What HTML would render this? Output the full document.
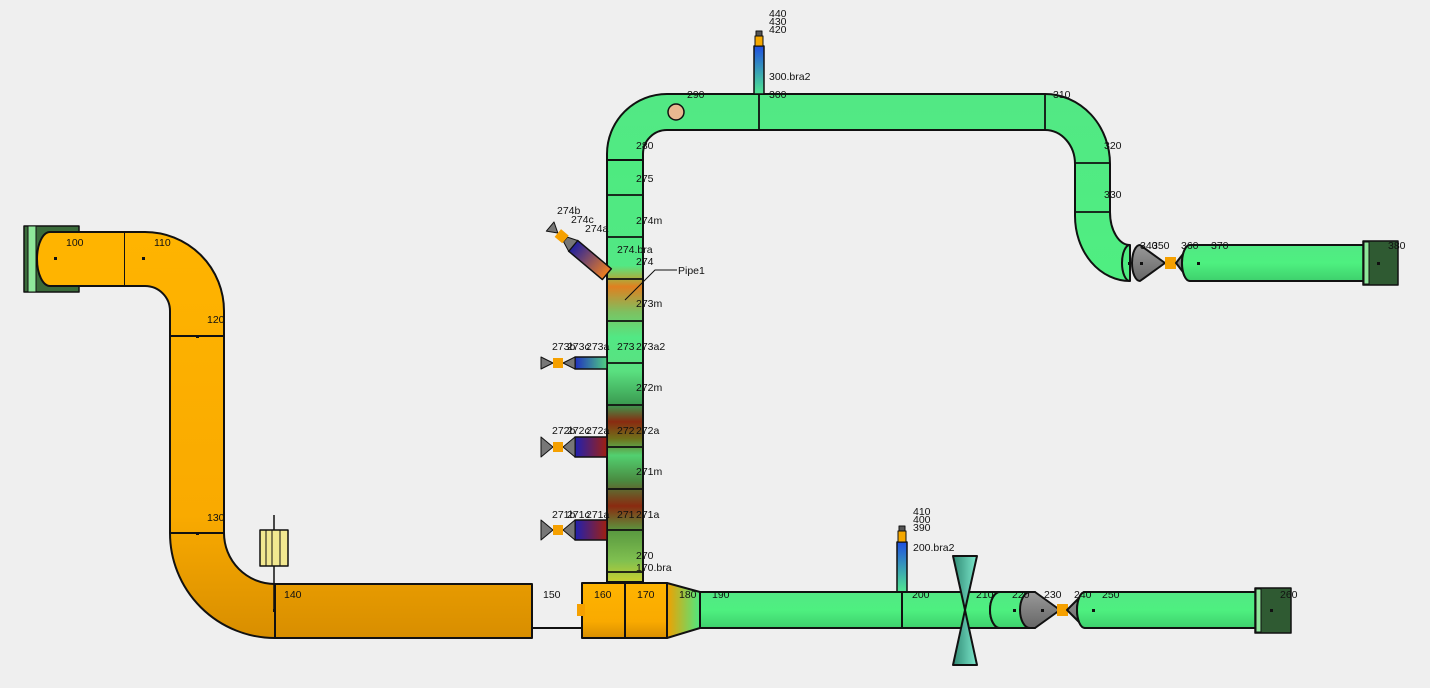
<!DOCTYPE html>
<html><head><meta charset="utf-8"><style>
html,body{margin:0;padding:0;background:#efefef;}
svg{display:block;font-family:"Liberation Sans",sans-serif;font-size:10.5px;}
</style></head><body>
<svg width="1430" height="688" viewBox="0 0 1430 688" xmlns="http://www.w3.org/2000/svg">
<defs>
<linearGradient id="og" x1="0" y1="0" x2="0" y2="1"><stop offset="0" stop-color="#ffb400"/><stop offset="0.7" stop-color="#f9aa00"/><stop offset="1" stop-color="#d88e00"/></linearGradient>
<linearGradient id="gg" x1="0" y1="0" x2="0" y2="1"><stop offset="0" stop-color="#52e884"/><stop offset="0.5" stop-color="#4ef080"/><stop offset="1" stop-color="#3ed06c"/></linearGradient>
<linearGradient id="riser" x1="0" y1="0" x2="0" y2="1">
<stop offset="0" stop-color="#4eea80"/><stop offset="0.25" stop-color="#52e884"/>
<stop offset="0.28" stop-color="#a8b040"/><stop offset="0.3" stop-color="#e08020"/><stop offset="0.36" stop-color="#7ec060"/>
<stop offset="0.42" stop-color="#52e884"/><stop offset="0.5" stop-color="#5ae080"/>
<stop offset="0.58" stop-color="#3a9a50"/><stop offset="0.62" stop-color="#8a2a10"/><stop offset="0.66" stop-color="#70701a"/><stop offset="0.7" stop-color="#52d070"/>
<stop offset="0.76" stop-color="#4a8a40"/><stop offset="0.82" stop-color="#8a2a10"/><stop offset="0.88" stop-color="#5a9a40"/>
<stop offset="0.95" stop-color="#80c050"/><stop offset="1" stop-color="#c8d030"/></linearGradient>
<linearGradient id="br" x1="0" y1="0" x2="1" y2="0"><stop offset="0" stop-color="#2020b0"/><stop offset="1" stop-color="#a02010"/></linearGradient>
<linearGradient id="br3" x1="0" y1="0" x2="1" y2="0"><stop offset="0" stop-color="#2030c0"/><stop offset="1" stop-color="#50d080"/></linearGradient>
<linearGradient id="br4" x1="0" y1="0" x2="1" y2="0"><stop offset="0" stop-color="#2020a0"/><stop offset="1" stop-color="#f08020"/></linearGradient>
<linearGradient id="vb" x1="0" y1="0" x2="0" y2="1"><stop offset="0" stop-color="#1f4fe0"/><stop offset="1" stop-color="#50e890"/></linearGradient>
<linearGradient id="cone" x1="0" y1="0" x2="1" y2="0"><stop offset="0" stop-color="#f0a000"/><stop offset="1" stop-color="#4ee880"/></linearGradient>
<linearGradient id="gray" x1="0" y1="0" x2="0" y2="1"><stop offset="0" stop-color="#999"/><stop offset="1" stop-color="#666"/></linearGradient>
<linearGradient id="teal" x1="0" y1="0" x2="1" y2="0"><stop offset="0" stop-color="#2f8a74"/><stop offset="1" stop-color="#7de8cc"/></linearGradient>
</defs>
<g stroke="#111" stroke-width="2" stroke-linejoin="round">
<!-- orange pipe -->
<path d="M50 232 H145 A79 79 0 0 1 224 311 V533 A51 51 0 0 0 275 584 H532 V638 H275 A105 105 0 0 1 170 533 V311 A25 25 0 0 0 145 286 H50 Z" fill="url(#og)"/>
<line x1="124" y1="232" x2="124" y2="286"/>
<line x1="170" y1="336" x2="224" y2="336"/>
<line x1="170" y1="533" x2="224" y2="533"/>
<line x1="275" y1="584" x2="275" y2="638"/>
<rect x="24" y="226" width="55" height="66" fill="#3a6b3a" stroke-width="1.5"/>
<rect x="28" y="226" width="8" height="66" fill="#8fe79a" stroke-width="1"/>
<ellipse cx="50" cy="259" rx="13" ry="27" fill="#ffb400"/>
<path d="M50 232 H124 V286 H50" fill="#ffb400" stroke="none"/>
<path d="M50 232 H124 M50 286 H124"/>
<!-- small valve -->
<line x1="274" y1="515" x2="274" y2="610" stroke-width="1.5"/>
<rect x="260" y="530" width="28" height="36" fill="#f2e890" stroke-width="1.5"/>
<line x1="266" y1="530" x2="266" y2="566" stroke-width="1"/><line x1="272" y1="530" x2="272" y2="566" stroke-width="1"/><line x1="280" y1="530" x2="280" y2="566" stroke-width="1"/>
<line x1="532" y1="628" x2="582" y2="628"/>
<!-- top route -->
<path d="M607 580 V154 A60 60 0 0 1 667 94 H1045 A65 70 0 0 1 1110 164 V212 A20 33 0 0 0 1130 245 V281 A55 65 0 0 1 1075 216 V164 A30 34 0 0 0 1045 130 H667 A24 24 0 0 0 643 154 V580 Z" fill="url(#gg)"/>
<rect x="607" y="160" width="36" height="422" fill="url(#riser)"/>
<g stroke-width="1.8">
<line x1="607" y1="160" x2="643" y2="160"/><line x1="607" y1="195" x2="643" y2="195"/><line x1="607" y1="237" x2="643" y2="237"/>
<line x1="607" y1="279" x2="643" y2="279"/><line x1="607" y1="321" x2="643" y2="321"/><line x1="607" y1="363" x2="643" y2="363"/>
<line x1="607" y1="405" x2="643" y2="405"/><line x1="607" y1="447" x2="643" y2="447"/><line x1="607" y1="489" x2="643" y2="489"/>
<line x1="607" y1="530" x2="643" y2="530"/><line x1="607" y1="572" x2="643" y2="572"/>
<line x1="759" y1="94" x2="759" y2="130"/><line x1="1045" y1="94" x2="1045" y2="130"/>
<line x1="1075" y1="163" x2="1110" y2="163"/><line x1="1075" y1="212" x2="1110" y2="212"/>
</g>
<line x1="607" y1="160" x2="607" y2="582"/><line x1="643" y1="160" x2="643" y2="582"/>
<circle cx="676" cy="112" r="8" fill="#e8b890" stroke-width="1.5"/>
<path d="M625 300 L655 270 H677" fill="none" stroke-width="1"/>
<!-- branch 300 -->
<rect x="754" y="46" width="10" height="48" fill="url(#vb)" stroke-width="1.5"/>
<rect x="755" y="36" width="8" height="10" fill="#f5a800" stroke-width="1"/>
<rect x="756" y="31" width="6" height="5" fill="#555" stroke-width="1"/>
<!-- right end -->
<path d="M1130 245 A8 18 0 0 0 1130 281" fill="none"/>
<path d="M1140 245 L1165 263 L1140 281 A8 18 0 0 1 1140 245 Z" fill="url(#gray)"/>
<rect x="1165" y="257" width="11" height="12" fill="#f5a000" stroke="none"/>
<path d="M1190 245 L1176 263 L1190 281 A8 18 0 0 1 1190 245 Z" fill="url(#gray)"/>
<path d="M1190 245 H1364 V281 H1190 A8 18 0 0 1 1190 245 Z" fill="url(#gg)"/>
<rect x="1363" y="241" width="35" height="44" fill="#2f5a32" stroke-width="1.5"/>
<rect x="1364" y="242" width="5" height="42" fill="#8fe79a" stroke-width="1"/>
<!-- 160/170 -->
<rect x="582" y="583" width="85" height="55" fill="url(#og)"/>
<line x1="625" y1="583" x2="625" y2="638"/>
<rect x="577" y="604" width="8" height="12" fill="#f5a000" stroke="none"/>
<path d="M667 583 L700 592 V628 L667 638 Z" fill="url(#cone)"/>
<!-- branch 200 -->
<rect x="897" y="542" width="10" height="50" fill="url(#vb)" stroke-width="1.5"/>
<rect x="898" y="531" width="8" height="11" fill="#f5a800" stroke-width="1"/>
<rect x="899" y="526" width="6" height="5" fill="#555" stroke-width="1"/>
<!-- bottom green -->
<path d="M700 592 H1000 A10 18 0 0 0 1000 628 H700 Z" fill="url(#gg)"/>
<line x1="902" y1="592" x2="902" y2="628"/>
<path d="M1000 592 H1035 A10 18 0 0 0 1035 628 H1000 A10 18 0 0 1 1000 592 Z" fill="url(#gg)"/>
<path d="M1030 592 H1035 L1060 610 L1035 628 H1030 A10 18 0 0 1 1030 592 Z" fill="url(#gray)"/>
<rect x="1057" y="604" width="11" height="12" fill="#f5a000" stroke="none"/>
<path d="M1085 592 L1067 610 L1085 628 A8 18 0 0 1 1085 592 Z" fill="url(#gray)"/>
<path d="M1085 592 H1256 V628 H1085 A8 18 0 0 1 1085 592 Z" fill="url(#gg)"/>
<rect x="1255" y="588" width="36" height="45" fill="#2f5a32" stroke-width="1.5"/>
<rect x="1256" y="589" width="5" height="43" fill="#8fe79a" stroke-width="1"/>
<line x1="965" y1="592" x2="965" y2="628"/>
<path d="M953 556 H977 L965 610 Z" fill="url(#teal)"/>
<path d="M965 610 L977 665 H953 Z" fill="url(#teal)"/>
<!-- diagonal branch 274 -->
<g transform="translate(590 260) rotate(40)">
<rect x="-22" y="-7" width="44" height="14" fill="url(#br4)" stroke-width="1.5"/>
<path d="M-22 -7 L-32 -3 V3 L-22 7 Z" fill="#777" stroke-width="1"/>
<path d="M-42 0 L-52 -6 V6 Z" fill="#777" stroke-width="1"/>
<rect x="-42" y="-5" width="10" height="10" fill="#f5a000" stroke="none"/>
</g>
<g>
<rect x="575" y="357" width="32" height="12" fill="url(#br3)" stroke-width="1.5"/>
<path d="M563 363 L575 357 V369 Z M553 363 L541 357 V369 Z" fill="#777" stroke-width="1"/>
<rect x="553" y="358" width="10" height="10" fill="#f5a000" stroke="none"/>
<rect x="575" y="437" width="32" height="20" fill="url(#br)" stroke-width="1.5"/>
<path d="M563 447 L575 437 V457 Z M553 447 L541 437 V457 Z" fill="#777" stroke-width="1"/>
<rect x="553" y="442" width="10" height="10" fill="#f5a000" stroke="none"/>
<rect x="575" y="520" width="32" height="20" fill="url(#br)" stroke-width="1.5"/>
<path d="M563 530 L575 520 V540 Z M553 530 L541 520 V540 Z" fill="#777" stroke-width="1"/>
<rect x="553" y="525" width="10" height="10" fill="#f5a000" stroke="none"/>
</g>
</g>
<g fill="#111">
<rect x="54" y="257" width="3" height="3"/><rect x="142" y="257" width="3" height="3"/><rect x="196" y="335" width="3" height="3"/><rect x="196" y="532" width="3" height="3"/>
<rect x="273" y="609" width="3" height="3"/><rect x="1128" y="262" width="3" height="3"/><rect x="1140" y="262" width="3" height="3"/><rect x="1197" y="262" width="3" height="3"/><rect x="1377" y="262" width="3" height="3"/>
<rect x="1013" y="609" width="3" height="3"/><rect x="1041" y="609" width="3" height="3"/><rect x="1092" y="609" width="3" height="3"/><rect x="1270" y="609" width="3" height="3"/>
</g>
<g fill="#111">
<text x="66" y="246">100</text><text x="154" y="246">110</text><text x="207" y="323">120</text><text x="207" y="521">130</text>
<text x="284" y="598">140</text><text x="543" y="598">150</text><text x="594" y="598">160</text><text x="637" y="598">170</text>
<text x="679" y="598">180</text><text x="712" y="598">190</text><text x="912" y="598">200</text><text x="976" y="598">210</text>
<text x="1012" y="598">220</text><text x="1044" y="598">230</text><text x="1074" y="598">240</text><text x="1102" y="598">250</text><text x="1280" y="598">260</text>
<text x="636" y="559">270</text><text x="636" y="571">170.bra</text>
<text x="913" y="551">200.bra2</text>
<text x="913" y="515">410</text><text x="913" y="523">400</text><text x="913" y="531">390</text>
<text x="552" y="518">271b</text><text x="567" y="518">271c</text><text x="586" y="518">271a</text><text x="617" y="518">271</text><text x="636" y="518">271a</text>
<text x="636" y="475">271m</text>
<text x="552" y="434">272b</text><text x="567" y="434">272c</text><text x="586" y="434">272a</text><text x="617" y="434">272</text><text x="636" y="434">272a</text>
<text x="636" y="391">272m</text>
<text x="552" y="350">273b</text><text x="567" y="350">273c</text><text x="586" y="350">273a</text><text x="617" y="350">273</text><text x="636" y="350">273a2</text>
<text x="636" y="307">273m</text>
<text x="636" y="265">274</text><text x="617" y="253">274.bra</text><text x="678" y="274">Pipe1</text>
<text x="557" y="214">274b</text><text x="571" y="223">274c</text><text x="585" y="232">274a</text>
<text x="636" y="224">274m</text><text x="636" y="182">275</text><text x="636" y="149">280</text>
<text x="687" y="98">290</text><text x="769" y="98">300</text><text x="769" y="80">300.bra2</text>
<text x="769" y="17">440</text><text x="769" y="25">430</text><text x="769" y="33">420</text>
<text x="1053" y="98">310</text><text x="1104" y="149">320</text><text x="1104" y="198">330</text>
<text x="1140" y="249">340</text><text x="1152" y="249">350</text><text x="1181" y="249">360</text><text x="1211" y="249">370</text><text x="1388" y="249">380</text>
</g>
</svg>
</body></html>
